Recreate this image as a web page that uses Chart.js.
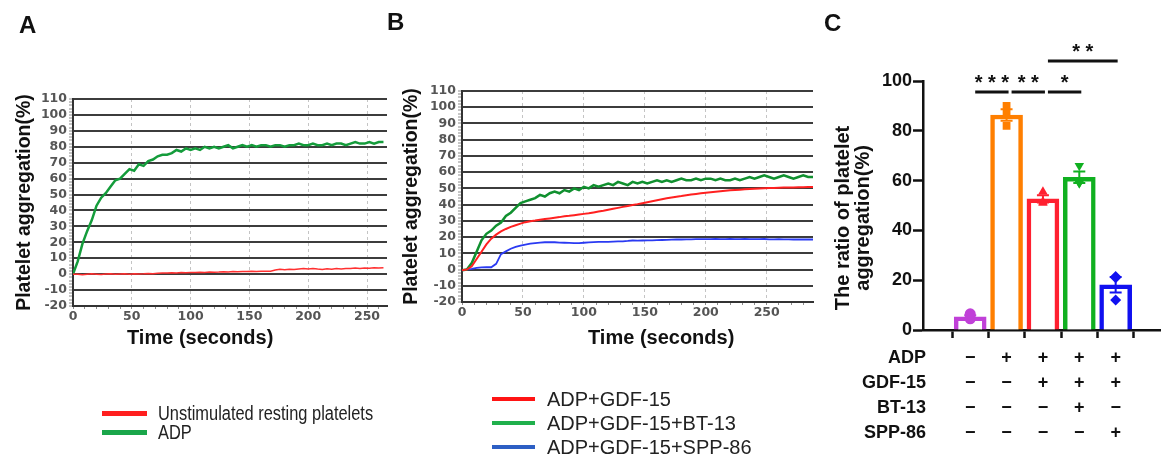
<!DOCTYPE html>
<html>
<head>
<meta charset="utf-8">
<script src="https://cdn.jsdelivr.net/npm/chart.js@4.4.1/dist/chart.umd.min.js"></script>
<style>
  body { margin: 0; background: #fff; }
  #wrap { position: relative; width: 1166px; height: 455px; overflow: hidden; font-family: 'Liberation Sans', Arial, sans-serif; color: #111; }
  canvas { position: absolute; top: 0; }
  .panel { position: absolute; font-weight: bold; font-size: 24px; line-height: 24px; }
  .xtitle { position: absolute; font-weight: bold; font-size: 20px; line-height: 20px; white-space: nowrap; }
  .legend { position: absolute; }
  .legend .row { display: flex; align-items: center; white-space: nowrap; font-size: 20px; color: #222; }
  .legend .swatch { display: inline-block; flex: none; }
  #legendA .row { height: 19px; line-height: 19px; }
  #legendA .swatch { width: 45px; height: 4.5px; margin-right: 11px; }
  #legendA .txt { display: inline-block; transform: scaleX(0.82); transform-origin: left center; }
  #legendB .row { height: 24px; line-height: 24px; }
  #legendB .swatch { width: 43px; height: 4.5px; margin-right: 12px; }
</style>
</head>
<body>
<div id="wrap">
  <canvas id="chartA" width="392" height="455" style="left:0"></canvas>
  <canvas id="chartB" width="420" height="455" style="left:395px"></canvas>
  <canvas id="chartC" width="366" height="455" style="left:800px"></canvas>
  <div class="panel" style="left:19px; top:13px">A</div>
  <div class="panel" style="left:387px; top:10px">B</div>
  <div class="panel" style="left:824px; top:11px">C</div>
  <div class="xtitle" style="left:127px; top:327px">Time (seconds)</div>
  <div class="xtitle" style="left:588px; top:327px">Time (seconds)</div>
  <div class="legend" id="legendA" style="left:102px; top:404px"></div>
  <div class="legend" id="legendB" style="left:492px; top:387px"></div>
</div>
<script>
// Panel A: aggregation traces (seconds, %)
const timesA = [0, 4, 8, 12, 16, 20, 24, 28, 32, 36, 40, 44, 48, 52, 56, 60, 64, 68, 72, 76,
  80, 84, 88, 92, 96, 100, 104, 108, 112, 116, 120, 124, 128, 132, 136, 140, 144, 148, 152, 156,
  160, 164, 168, 172, 176, 180, 184, 188, 192, 196, 200, 204, 208, 212, 216, 220, 224, 228, 232, 236,
  240, 244, 248, 252, 256, 260, 264];
const restingA = [0, 0, -0.3, 0, 0.2, 0, -0.2, 0.1, 0.3, 0,
  0.1, 0.2, 0, 0.3, 0.1, 0.2, 0.4, 0.3, 0.6, 0.8,
  0.7, 0.9, 0.8, 1.0, 0.9, 1.1, 1.0, 1.2, 1.1, 1.3,
  1.2, 1.3, 1.5, 1.4, 1.6, 1.5, 1.7, 1.6, 1.8, 1.7,
  1.8, 1.9, 1.8, 2.6, 3.0, 2.7, 3.1, 2.9, 3.3, 3.6,
  3.2, 3.5, 3.2, 3.0, 3.4, 3.1, 3.5, 3.3, 3.6, 3.5,
  3.8, 3.6, 3.9, 3.7, 4.0, 3.8, 4.0];
const adpA = [0, 8, 19, 27, 34, 43, 48, 51, 55, 59,
  60, 63, 66, 65, 69, 68, 71, 72, 74, 75,
  75, 76, 78, 77, 79, 78, 79, 78, 80, 79,
  80, 79, 80, 81, 79, 80, 81, 80, 81, 80,
  81, 81, 80, 81, 81, 80, 81, 81, 82, 81,
  81, 82, 81, 81, 82, 81, 82, 82, 81, 82,
  83, 82, 82, 83, 82, 83, 83];

// Panel B
const timesB = [0, 4, 8, 12, 16, 20, 24, 28, 32, 36, 40, 44, 48, 52, 56, 60, 64, 68, 72, 76,
  80, 84, 88, 92, 96, 100, 104, 108, 112, 116, 120, 124, 128, 132, 136, 140, 144, 148, 152, 156,
  160, 164, 168, 172, 176, 180, 184, 188, 192, 196, 200, 204, 208, 212, 216, 220, 224, 228, 232, 236,
  240, 244, 248, 252, 256, 260, 264, 268, 272, 276, 280, 284, 288];
const gdfB = [-0.5, 0, 2, 6.5, 11, 15.5, 19, 21.5, 23.5, 25,
  26.3, 27.3, 28.3, 29.2, 29.8, 30.2, 30.7, 31.1, 31.5, 31.9,
  32.3, 32.8, 33.1, 33.5, 33.9, 34.3, 34.7, 35.2, 35.7, 36.2,
  36.8, 37.4, 38, 38.6, 39.2, 39.8, 40.3, 40.9, 41.5, 42.1,
  42.7, 43.3, 43.9, 44.4, 44.9, 45.3, 45.8, 46.2, 46.6, 47,
  47.3, 47.6, 47.9, 48.2, 48.5, 48.8, 49, 49.2, 49.4, 49.6,
  49.8, 50, 50.1, 50.2, 50.3, 50.4, 50.5, 50.6, 50.6, 50.7,
  50.7, 50.8, 50.8];
const gdfBt13B = [-0.5, 0, 4, 11, 18, 22, 24, 27, 29, 33,
  35, 38, 41, 42, 43, 44, 46, 45, 47, 48,
  47, 49, 48, 50, 49, 51, 50, 52, 51, 52,
  53, 52, 54, 53, 52, 54, 53, 54, 53, 54,
  55, 54, 55, 54, 55, 56, 55, 55, 56, 55,
  56, 56, 55, 56, 55, 55, 56, 55, 56, 57,
  56, 57, 58, 57, 56, 57, 58, 57, 56, 57,
  58, 57, 57];
const gdfSpp86B = [-0.5, 0, 0.4, 1, 1.3, 1.4, 1.4, 3.5, 9.5, 11.2,
  12.8, 13.9, 14.8, 15.4, 15.9, 16.3, 16.6, 16.8, 16.9, 16.8,
  16.6, 16.5, 16.4, 16.3, 16.3, 16.5, 16.7, 16.9, 17, 17.1,
  17.1, 17.2, 17.3, 17.4, 17.6, 17.9, 17.8, 17.9, 18, 18,
  18.1, 18.2, 18.3, 18.4, 18.5, 18.5, 18.6, 18.6, 18.7, 18.7,
  18.7, 18.7, 18.8, 18.7, 18.7, 18.8, 18.7, 18.7, 18.8, 18.7,
  18.7, 18.7, 18.8, 18.6, 18.6, 18.7, 18.6, 18.6, 18.5, 18.5,
  18.6, 18.5, 18.5];

// Panel C: ratio of platelet aggregation (%), three replicates per group
const groupNames = ['Control', 'ADP', 'ADP+GDF-15', 'ADP+GDF-15+BT-13', 'ADP+GDF-15+SPP-86'];
const ratioReps = [[6.5, 5, 4.5], [90, 87, 82], [55.5, 51, 51.5], [66, 59, 59], [21.5, 21, 12]];
const rowNames = ['ADP', 'GDF-15', 'BT-13', 'SPP-86'];
const adpRow = ['\u2212', '+', '+', '+', '+'];
const gdfRow = ['\u2212', '\u2212', '+', '+', '+'];
const bt13Row = ['\u2212', '\u2212', '\u2212', '+', '\u2212'];
const spp86Row = ['\u2212', '\u2212', '\u2212', '\u2212', '+'];
const sigPairs = [[0, 1], [1, 2], [2, 3], [2, 4]];
const sigLabels = ['* * *', '* *', '*', '* *'];
const sigHeights = [95.6, 95.6, 95.6, 108];
const ratioTitle = ['The ratio of platelet', 'aggregation(%)'];

const groupColors = ['#c040d8', '#ff7f00', '#ff2030', '#10b020', '#1010f0'];
const groupShapes = ['circle', 'rect', 'triangle', 'triangle', 'rectRot'];
const groupRotation = [0, 0, 0, 180, 0];

Chart.defaults.font.family = "'Liberation Sans', Arial, sans-serif";
Chart.defaults.animation = false;

function lineSeries(times, values) {
  return times.map((t, i) => ({ x: t, y: values[i] }));
}
const mean = a => a.reduce((s, v) => s + v, 0) / a.length;
const sem = a => {
  const m = mean(a);
  return Math.sqrt(a.reduce((s, v) => s + (v - m) * (v - m), 0) / (a.length - 1)) / Math.sqrt(a.length);
};

const tickFont = { family: 'DejaVu Sans', size: 12.5, weight: 'bold' };

function traceOptions(pad, yWidth, xMax, titlePad) {
  return {
    responsive: false,
    animation: false,
    layout: { padding: pad },
    plugins: { legend: { display: false }, tooltip: { enabled: false } },
    elements: { point: { radius: 0 }, line: { tension: 0 } },
    scales: {
      x: {
        type: 'linear', min: 0, max: xMax,
        afterFit: s => { s.height = 20; },
        ticks: {
          stepSize: 10, includeBounds: false, autoSkip: false, maxRotation: 0, maxTicksLimit: 100,
          padding: 0, color: '#555', font: tickFont,
          callback: v => (v % 50 === 0 ? String(v) : '')
        },
        grid: {
          color: c => (c.tick && c.tick.value % 50 === 0 && c.tick.value > 0 ? '#c4c4c4' : 'transparent'),
          lineWidth: 1, tickLength: 3, tickColor: '#8c8c8c', tickWidth: 1
        },
        border: { color: '#333', width: 2, dash: [3, 3] }
      },
      y: {
        min: -20, max: 110,
        afterFit: s => { s.width = yWidth; },
        ticks: {
          stepSize: 2, autoSkip: false, maxTicksLimit: 100, padding: 2, color: '#555', font: tickFont,
          callback: v => (v % 10 === 0 ? String(v) : '')
        },
        grid: {
          color: c => (c.tick && c.tick.value % 10 === 0 ? '#3c3c3c' : 'transparent'),
          lineWidth: 2, tickLength: 4, tickColor: '#8c8c8c', tickWidth: 1
        },
        border: { color: '#333', width: 2 },
        title: {
          display: true, text: 'Platelet aggregation(%)', color: '#111',
          font: { size: 19.5, weight: 'bold' }, padding: { top: titlePad, bottom: 0 }
        }
      }
    }
  };
}

const chartA = new Chart(document.getElementById('chartA'), {
  type: 'line',
  data: {
    datasets: [
      { label: 'Unstimulated resting platelets', data: lineSeries(timesA, restingA), borderColor: '#ff3030', legendColor: '#ff1f1f', borderWidth: 1.5 },
      { label: 'ADP', data: lineSeries(timesA, adpA), borderColor: '#149c3b', legendColor: '#1aa64a', borderWidth: 2.5 }
    ]
  },
  options: traceOptions({ left: 0, top: 99, right: 5, bottom: 129 }, 73, 267, 13)
});

const chartB = new Chart(document.getElementById('chartB'), {
  type: 'line',
  data: {
    datasets: [
      { label: 'ADP+GDF-15', data: lineSeries(timesB, gdfB), borderColor: '#ff2020', legendColor: '#ff1414', borderWidth: 2 },
      { label: 'ADP+GDF-15+BT-13', data: lineSeries(timesB, gdfBt13B), borderColor: '#10902f', legendColor: '#20b04c', borderWidth: 2.5 },
      { label: 'ADP+GDF-15+SPP-86', data: lineSeries(timesB, gdfSpp86B), borderColor: '#2a3af2', legendColor: '#2d5fc4', borderWidth: 1.8 }
    ]
  },
  options: traceOptions({ left: 0, top: 91, right: 2, bottom: 133 }, 67, 288, 5)
});

function htmlLegend(el, chart) {
  chart.data.datasets.forEach(ds => {
    const row = document.createElement('div');
    row.className = 'row';
    const sw = document.createElement('span');
    sw.className = 'swatch';
    sw.style.background = ds.legendColor || ds.borderColor;
    const tx = document.createElement('span');
    tx.className = 'txt';
    tx.textContent = ds.label;
    row.append(sw, tx);
    el.append(row);
  });
}
htmlLegend(document.getElementById('legendA'), chartA);
htmlLegend(document.getElementById('legendB'), chartB);

// error bars (mean +/- SEM), drawn right after the bars
const errorBars = {
  id: 'errorBars',
  afterDatasetDraw(chart, args) {
    if (args.index !== 0) return;
    const { ctx, scales: { x, y } } = chart;
    ctx.save();
    ctx.lineWidth = 2;
    ratioReps.forEach((r, i) => {
      const m = mean(r), e = sem(r);
      const px = x.getPixelForValue(i);
      const hi = y.getPixelForValue(m + e), lo = y.getPixelForValue(m - e);
      ctx.strokeStyle = groupColors[i];
      ctx.beginPath();
      ctx.moveTo(px, hi); ctx.lineTo(px, lo);
      ctx.moveTo(px - 6, hi); ctx.lineTo(px + 6, hi);
      ctx.moveTo(px - 6, lo); ctx.lineTo(px + 6, lo);
      ctx.stroke();
    });
    ctx.restore();
  }
};

// significance brackets, y title and the treatment row names
const annotations = {
  id: 'annotations',
  afterDraw(chart) {
    const { ctx, scales: { x, y } } = chart;
    ctx.save();
    ctx.strokeStyle = '#111';
    ctx.fillStyle = '#111';
    ctx.lineWidth = 3;
    ctx.font = "bold 20px 'Liberation Sans', Arial";
    ctx.textAlign = 'center';
    ctx.textBaseline = 'alphabetic';
    sigPairs.forEach(([a, b], i) => {
      const x1 = x.getPixelForValue(a) + 5;
      const x2 = x.getPixelForValue(b) + 2;
      const py = y.getPixelForValue(sigHeights[i]);
      ctx.beginPath();
      ctx.moveTo(x1, py); ctx.lineTo(x2, py);
      ctx.stroke();
      ctx.fillText(sigLabels[i], (x1 + x2) / 2, py - 3);
    });

    // axis title, set a little below the middle of the axis as in the figure
    ctx.save();
    ctx.translate(43, y.getPixelForValue(45));
    ctx.rotate(-Math.PI / 2);
    ctx.textBaseline = 'middle';
    ratioTitle.forEach((t, i) => ctx.fillText(t, 0, i * 20));
    ctx.restore();

    const xo = x.options;
    const lh = 18 * 1.4;
    const y0 = x.top + xo.grid.tickLength + xo.ticks.padding + lh / 2;
    ctx.font = "bold 18px 'Liberation Sans', Arial";
    ctx.textAlign = 'right';
    ctx.textBaseline = 'middle';
    rowNames.forEach((n, i) => ctx.fillText(n, chart.chartArea.left + 3, y0 + i * lh));
    ctx.restore();
  }
};

const replicateSets = [0, 1, 2].map(k => ({
  type: 'scatter',
  data: ratioReps.map((r, i) => ({ x: i, y: r[k] })),
  pointStyle: groupShapes,
  rotation: groupRotation,
  pointRadius: 5.5,
  backgroundColor: groupColors,
  borderColor: groupColors,
  borderWidth: 0,
  order: 1
}));

new Chart(document.getElementById('chartC'), {
  type: 'bar',
  data: {
    datasets: [
      {
        type: 'bar',
        data: ratioReps.map((r, i) => ({ x: i, y: mean(r) })),
        backgroundColor: '#ffffff',
        borderColor: groupColors,
        borderWidth: 4.5,
        barThickness: 32,
        order: 2
      },
      ...replicateSets
    ]
  },
  options: {
    responsive: false,
    animation: false,
    layout: { padding: { left: 0, top: 81, right: 0, bottom: 0 } },
    plugins: { legend: { display: false }, tooltip: { enabled: false } },
    scales: {
      x: {
        type: 'linear', min: -0.645, max: 4.58,
        afterFit: s => { s.height = 125; },
        ticks: {
          stepSize: 1, includeBounds: false, autoSkip: false, maxRotation: 0, padding: 7,
          color: '#111', font: { size: 18, weight: 'bold', lineHeight: 1.4 },
          callback: v => (Number.isInteger(v) && v >= 0 && v < groupNames.length
            ? [adpRow[v], gdfRow[v], bt13Row[v], spp86Row[v]] : '')
        },
        grid: { drawOnChartArea: false, tickLength: 8, tickWidth: 2.5, tickColor: '#111' },
        border: { color: '#111', width: 2.5 }
      },
      y: {
        min: 0, max: 100,
        afterFit: s => { s.width = 123; },
        ticks: { stepSize: 20, padding: 1, color: '#111', font: { size: 18, weight: 'bold' } },
        grid: { drawOnChartArea: false, tickLength: 10, tickWidth: 2.5, tickColor: '#111' },
        border: { color: '#111', width: 2.5 }
      }
    }
  },
  plugins: [errorBars, annotations]
});
</script>
</body>
</html>
